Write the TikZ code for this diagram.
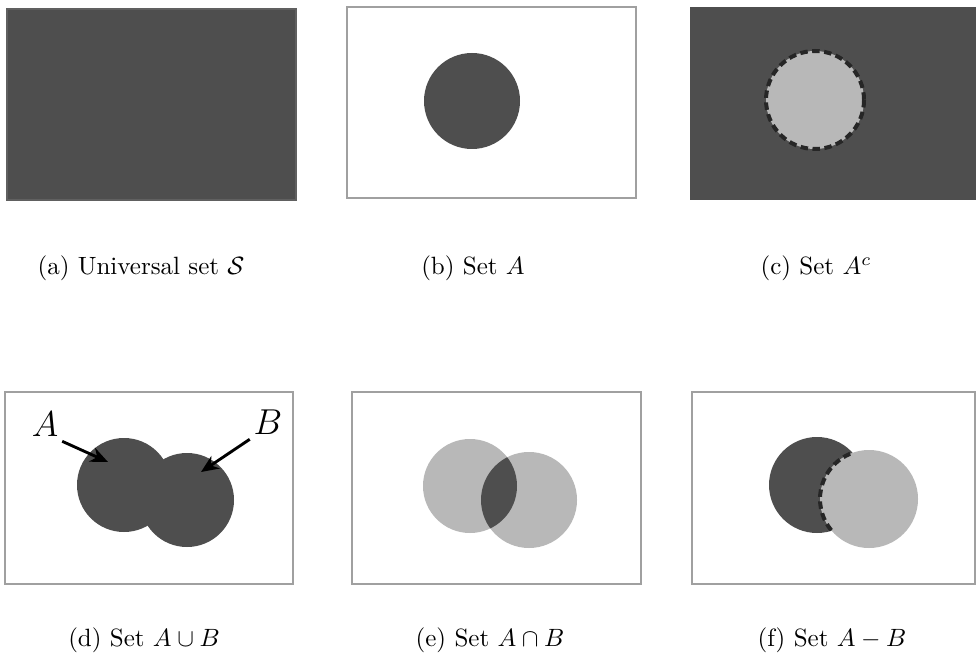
\documentclass[tikz,border=0pt]{standalone}
\usetikzlibrary{arrows.meta}
\definecolor{darkset}{HTML}{4E4E4E}
\definecolor{lightset}{HTML}{B8B8B8}
\definecolor{frame}{HTML}{A0A0A0}
\begin{document}
\begin{tikzpicture}[x=0.4pt,y=-0.4pt,
  panel/.style={draw=frame,line width=0.6pt},
  darkfill/.style={fill=darkset},
  lightfill/.style={fill=lightset},
  dashedge/.style={draw=black!85,line width=1.6pt,dash pattern=on 3pt off 1.8pt},
  caption/.style={inner sep=0pt,font=\normalsize},
  setlabel/.style={inner sep=1pt,font=\Large},
  pointer/.style={draw=black,line width=1.15pt,-{Stealth[length=7pt,width=6pt]}}]
\useasboundingbox (0,0) rectangle (977,658);
\fill[white] (0,0) rectangle (977,658);
% (a)
\fill[darkset] (7,9) rectangle (296,200);
\draw[panel,draw=darkset!90] (7,9) rectangle (296,200);
\node[caption] (capa) at (141,268) {(a) Universal set $\mathcal{S}$};
% (b)
\draw[panel] (347,7) rectangle (636,198);
\fill[darkfill] (472,101) circle [radius=48];
\node[caption] (capb) at (473,268) {(b) Set $A$};
% (c)
\fill[darkset] (690,7) rectangle (976,200);
\fill[lightfill] (815,100) circle [radius=49];
\draw[dashedge] (815,100) circle [radius=49];
\node[caption] (capc) at (816,268) {(c) Set $A^c$};
% (d)
\draw[panel] (5,392) rectangle (293,584);
\fill[darkfill] (124,485) circle [radius=47];
\fill[darkfill] (187,500) circle [radius=47];
\node[setlabel] (labA) at (45,424) {$A$};
\node[setlabel] (labB) at (268,422) {$B$};
\coordinate (tipA) at (108,462);
\coordinate (tipB) at (201,472);
\draw[pointer] (labA.south east) ++(1,2) -- (tipA);
\draw[pointer] (labB.south west) ++(-1,2) -- (tipB);
\node[caption] (capd) at (144,640) {(d) Set $A\cup B$};
% (e)
\draw[panel] (352,392) rectangle (641,584);
\fill[lightfill] (470,486) circle [radius=47];
\fill[lightfill] (529,500) circle [radius=48];
\begin{scope}
  \clip (470,486) circle [radius=47];
  \fill[darkfill] (529,500) circle [radius=48];
\end{scope}
\node[caption] (cape) at (490,640) {(e) Set $A\cap B$};
% (f)
\draw[panel] (692,392) rectangle (975,584);
\fill[darkfill] (817,485) circle [radius=48];
\fill[lightfill] (869,499) circle [radius=49];
\begin{scope}
  \clip (817,485) circle [radius=48];
  \draw[dashedge] (869,499) circle [radius=49];
\end{scope}
\node[caption] (capf) at (832,640) {(f) Set $A-B$};
\end{tikzpicture}
\end{document}
